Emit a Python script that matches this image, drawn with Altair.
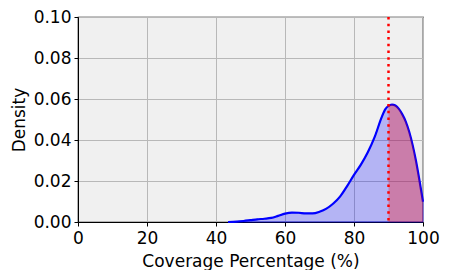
import altair as alt
import pandas as pd

coverage = [43.5, 46, 48, 50, 52, 54, 56, 58, 60, 62, 64, 66, 68, 70, 72, 74, 76,
            78, 80, 82, 84, 86, 88, 89, 90, 91, 92, 93, 94, 95, 96, 97, 98, 99, 100]
density = [0.0, 0.0002, 0.0005, 0.0009, 0.0013, 0.0016, 0.0020, 0.0030, 0.0041,
           0.0046, 0.0045, 0.0042, 0.0042, 0.0050, 0.0065, 0.0090, 0.0125, 0.0175,
           0.0230, 0.0280, 0.0340, 0.0415, 0.0510, 0.0548, 0.0566, 0.0573, 0.0568,
           0.0552, 0.0525, 0.0490, 0.0440, 0.0375, 0.0295, 0.0200, 0.0099]
threshold = 90

df = pd.DataFrame({"x": coverage, "y": density})
df_hi = df[df["x"] >= threshold]
df_rule = pd.DataFrame({"x": [threshold]})

FONT = "DejaVu Sans"
FS = 17

xscale = alt.Scale(domain=[0, 100], nice=False, zero=False)
yscale = alt.Scale(domain=[0, 0.10], nice=False)

xenc = alt.X("x:Q", scale=xscale, title="Coverage Percentage (%)",
             axis=alt.Axis(values=[0, 20, 40, 60, 80, 100], format="d", grid=True,
                           gridColor="#b8b8b8", gridWidth=1, tickColor="black",
                           domainColor="black", domainWidth=1, tickSize=4,
                           labelFontSize=FS, titleFontSize=FS, labelFont=FONT,
                           titleFont=FONT, titleFontWeight="normal",
                           labelColor="black", titleColor="black",
                           labelFlush=False,
                           labelPadding=4, titlePadding=7))
yenc = alt.Y("y:Q", scale=yscale, title="Density",
             axis=alt.Axis(values=[0, 0.02, 0.04, 0.06, 0.08, 0.10], format=".2f",
                           grid=True, gridColor="#b8b8b8", gridWidth=1,
                           tickColor="black", domainColor="black", domainWidth=1,
                           tickSize=4, labelFontSize=FS, titleFontSize=FS,
                           labelFont=FONT, titleFont=FONT, titleFontWeight="normal",
                           labelColor="black", titleColor="black",
                           labelPadding=3, titlePadding=5))

fill = alt.Chart(df).mark_area(color="blue", fillOpacity=0.25, stroke="blue",
                               strokeWidth=1, strokeOpacity=0.6,
                               interpolate="monotone").encode(x=xenc, y=yenc)
line = alt.Chart(df).mark_line(color="#0000ff", strokeWidth=2.2,
                               interpolate="monotone").encode(x="x:Q", y="y:Q")
hi = alt.Chart(df_hi).mark_area(color="red", opacity=0.3,
                                interpolate="monotone").encode(x="x:Q", y="y:Q")
rule = alt.Chart(df_rule).mark_rule(color="red", strokeWidth=2.5,
                                    strokeDash=[2.5, 4.2]).encode(x="x:Q")

chart = alt.layer(fill, line, hi, rule).properties(
    width=345, height=205,
    autosize=alt.AutoSizeParams(type="none"),
    padding={"left": 70, "top": 9, "right": 18, "bottom": 48},
).configure_view(fill="#f0f0f0", stroke="black", strokeWidth=1.2)

chart.save("out.html", embed_options={"renderer": "svg", "actions": False})
